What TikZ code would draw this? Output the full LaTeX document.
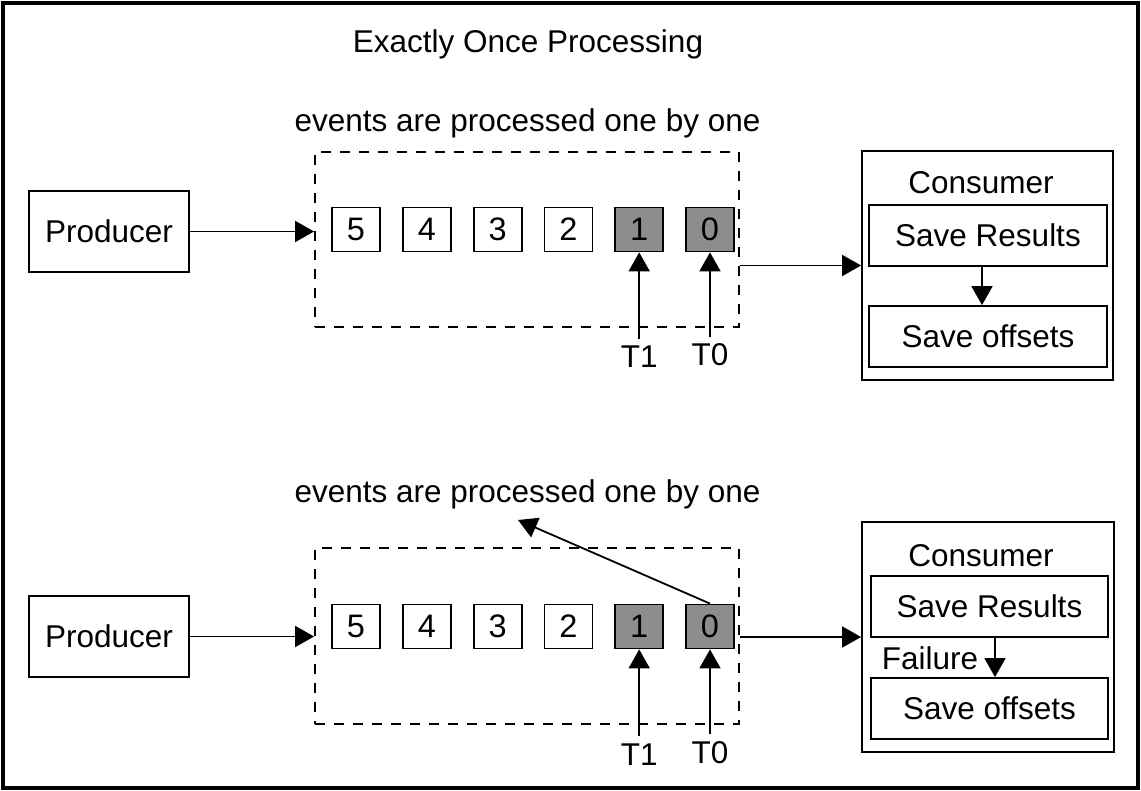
\documentclass[tikz,border=0pt]{standalone}
\usepackage{fontspec}
\setmainfont{Liberation Sans}
\usetikzlibrary{arrows.meta,positioning}
\definecolor{donegray}{RGB}{140,141,143}

\begin{document}
\begin{tikzpicture}[
    x=1pt, y=-1pt,
    font=\fontsize{31.5}{36}\selectfont,
    txt/.style={inner sep=0pt, anchor=base},
    block/.style={draw, rectangle, line width=1.8pt, inner sep=0pt, text centered},
    event/.style={draw, rectangle, line width=1.8pt, inner sep=0pt, minimum width=48pt, minimum height=44pt, font=\fontsize{32.5}{36}\selectfont},
    done/.style={event, fill=donegray},
    queue/.style={draw, rectangle, line width=1.8pt, dash pattern=on 10pt off 9pt},
    tlabel/.style={txt, outer sep=7pt},
    arrow/.style={-{Triangle[length=19pt, width=21pt]}, line width=1.8pt},
    node distance=21pt
]
    \useasboundingbox (0,0) rectangle (1141,791);
    \draw[line width=3.5pt] (3,3) rectangle (1138,788);

    \node[txt] (title) at (528,53) {Exactly Once Processing};

    % top: both events are processed
    \node[txt] (capA) at (527.5,132) {events are processed one by one};
    \node[block, minimum width=160pt, minimum height=81pt] (prodA) at (109,231.5) {Producer};
    \node[queue, minimum width=424pt, minimum height=175pt] (qA) at (527,239.5) {};
    \node[event] (a5) at (356,229.5) {5};
    \node[event, right=of a5] (a4) {4};
    \node[event, right=of a4] (a3) {3};
    \node[event, right=of a3] (a2) {2};
    \node[done, right=of a2] (a1) {1};
    \node[done, right=of a1] (a0) {0};
    \node[tlabel] (t1A) at (a1 |- 0,368) {T1};
    \node[tlabel] (t0A) at (a0 |- 0,366) {T0};

    \node[block, minimum width=251pt, minimum height=229pt] (consA) at (987.5,265.5) {};
    \node[txt] (consAname) at (981,194) {Consumer};
    \node[block, minimum width=238pt, minimum height=61pt] (resA) at (988,235.5) {Save Results};
    \node[block, minimum width=238pt, minimum height=61pt] (offA) at (988,336.5) {Save offsets};

    \draw[arrow] (prodA.east) -- (prodA.east -| qA.west);
    \draw[arrow] (consA.west -| qA.east) -- (consA.west);
    \draw[arrow] (t1A.north) -- (a1.south);
    \draw[arrow] (t0A.north) -- (a0.south);
    \draw[arrow] ([xshift=-6pt]resA.south) -- ([xshift=-6pt]offA.north);

    % bottom: failure before the offsets are saved
    \node[txt] (capB) at (527.5,502) {events are processed one by one};
    \node[block, minimum width=160pt, minimum height=81pt] (prodB) at (109,636.5) {Producer};
    \node[queue, minimum width=424pt, minimum height=176pt] (qB) at (527,636) {};
    \node[event] (b5) at (356,626.5) {5};
    \node[event, right=of b5] (b4) {4};
    \node[event, right=of b4] (b3) {3};
    \node[event, right=of b3] (b2) {2};
    \node[done, right=of b2] (b1) {1};
    \node[done, right=of b1] (b0) {0};
    \node[tlabel] (t1B) at (b1 |- 0,765) {T1};
    \node[tlabel] (t0B) at (b0 |- 0,763) {T0};
    \coordinate (back) at (518,520);

    \node[block, minimum width=252pt, minimum height=230pt] (consB) at (988,637) {};
    \node[txt] (consBname) at (981,566) {Consumer};
    \node[block, minimum width=237pt, minimum height=61pt] (resB) at (989.5,606.5) {Save Results};
    \node[block, minimum width=237pt, minimum height=61pt] (offB) at (989.5,708.5) {Save offsets};
    \node[txt] (fail) at (930,669) {Failure};

    \draw[arrow] (prodB.east) -- (prodB.east -| qB.west);
    \draw[arrow] (consB.west -| qB.east) -- (consB.west);
    \draw[arrow] (t1B.north) -- (b1.south);
    \draw[arrow] (t0B.north) -- (b0.south);
    \draw[arrow] (b0.north) -- (back);
    \draw[arrow] ([xshift=5.5pt]resB.south) -- ([xshift=5.5pt]offB.north);
\end{tikzpicture}
\end{document}
